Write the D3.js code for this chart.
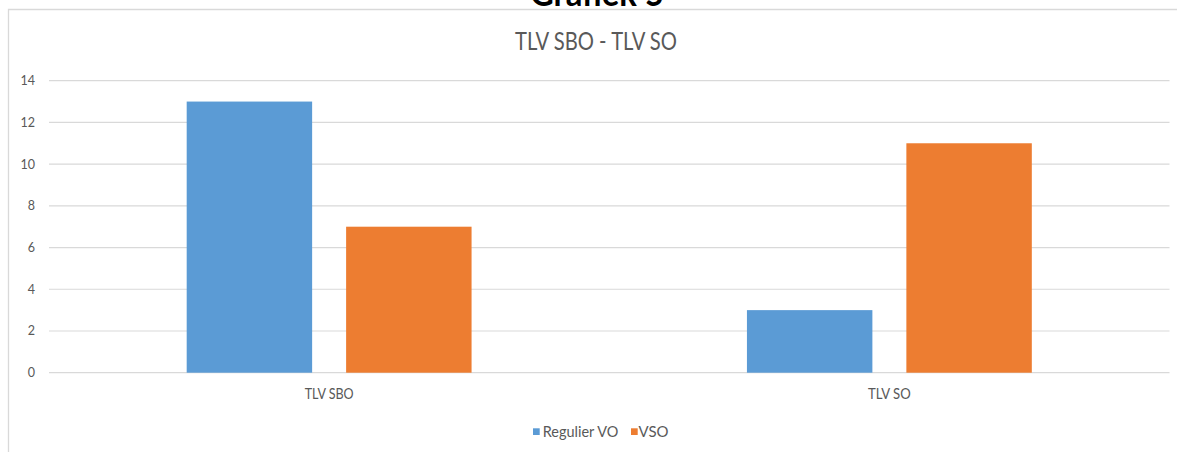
<!DOCTYPE html>
<html>
<head>
<meta charset="utf-8">
<script src="https://cdn.jsdelivr.net/npm/d3@7"></script>
<style>
  html, body { margin: 0; padding: 0; background: #fff; }
  svg { display: block; }
  text { font-family: Lato, "Liberation Sans", sans-serif; }
</style>
</head>
<body>
<svg id="chart" width="1177" height="452"></svg>
<script>
// ---- data ----
const categories = ["TLV SBO", "TLV SO"];
const seriesNames = ["Regulier VO", "VSO"];
const regulierVO = [13, 3];
const vso = [7, 11];
const yTicks = [0, 2, 4, 6, 8, 10, 12, 14];
const chartTitle = "TLV SBO - TLV SO";
const pageHeading = "Grafiek 5";

// ---- layout / style ----
const W = 1177, H = 452;
const plot = { left: 49, right: 1169.5, top: 80.7, bottom: 372.7 };
const colors = { "Regulier VO": "#5B9BD5", "VSO": "#ED7D31" };
const textColor = "#595959";
const gridColor = "#d9d9d9";

const svg = d3.select("#chart");

function fitTo(sel, width) {
  sel.each(function () {
    this.setAttribute("textLength", width);
    this.setAttribute("lengthAdjust", "spacingAndGlyphs");
  });
}

// page heading (cut off at top)
svg.append("text")
  .attr("x", 597).attr("y", 5.5)
  .attr("text-anchor", "middle")
  .attr("font-size", 36).attr("font-weight", "bold")
  .attr("fill", "#000")
  .text(pageHeading)
  .call(fitTo, 134);

// chart area border (top + left visible)
svg.append("path")
  .attr("d", `M8.5,${H} V9.5 H${W}`)
  .attr("fill", "none").attr("stroke", gridColor).attr("stroke-width", 1.3);

// scales
const y = d3.scaleLinear().domain([0, 14]).range([plot.bottom, plot.top]);
const x0 = d3.scaleBand().domain(categories).range([plot.left, plot.right]).padding(0);
const groupFrac = 285 / 560.5;
const x1 = d3.scaleBand().domain(seriesNames)
  .range([0, x0.bandwidth() * groupFrac])
  .paddingInner(34 / 159.5).paddingOuter(0);
const groupOffset = (x0.bandwidth() - x0.bandwidth() * groupFrac) / 2;

// gridlines
svg.append("g")
  .selectAll("line").data(yTicks).join("line")
  .attr("x1", plot.left).attr("x2", plot.right)
  .attr("y1", d => y(d)).attr("y2", d => y(d))
  .attr("stroke", gridColor).attr("stroke-width", 1.2);

// y axis labels
const yAxis = d3.axisLeft(y).tickValues(yTicks).tickSize(0).tickPadding(0).tickFormat(d3.format("d"));
const yg = svg.append("g").attr("transform", "translate(35,0)").call(yAxis);
yg.select(".domain").remove();
yg.selectAll("text")
  .attr("fill", textColor)
  .attr("font-size", 12.5)
  .attr("font-family", "Lato, sans-serif");

// bars
const rows = categories.map((c, i) => ({
  category: c,
  values: [
    { series: "Regulier VO", value: regulierVO[i] },
    { series: "VSO", value: vso[i] }
  ]
}));

const groups = svg.append("g").selectAll("g").data(rows).join("g")
  .attr("transform", d => `translate(${x0(d.category) + groupOffset},0)`);

groups.selectAll("rect").data(d => d.values).join("rect")
  .attr("x", d => x1(d.series))
  .attr("width", x1.bandwidth())
  .attr("y", d => y(d.value))
  .attr("height", d => y(0) - y(d.value))
  .attr("fill", d => colors[d.series]);

// x axis labels
const xAxis = d3.axisBottom(x0).tickSize(0).tickPadding(0);
const xg = svg.append("g").attr("transform", `translate(0,${plot.bottom})`).call(xAxis);
xg.select(".domain").remove();
const catWidths = { "TLV SBO": 49, "TLV SO": 42.7 };
xg.selectAll("text")
  .attr("dy", null)
  .attr("y", 26.3)
  .attr("fill", textColor)
  .attr("font-size", 15)
  .attr("font-family", "Lato, sans-serif")
  .each(function (d) { fitTo(d3.select(this), catWidths[d]); });

// title
svg.append("text")
  .attr("x", 596).attr("y", 50)
  .attr("text-anchor", "middle")
  .attr("font-size", 25)
  .attr("fill", textColor)
  .text(chartTitle)
  .call(fitTo, 162);

// legend
const legendItems = [
  { name: seriesNames[0], sx: 533, tx: 542.7, w: 75.6 },
  { name: seriesNames[1], sx: 631, tx: 638.5, w: 30 }
];
const lg = svg.append("g");
lg.selectAll("rect").data(legendItems).join("rect")
  .attr("x", d => d.sx).attr("y", 428.3)
  .attr("width", 6.7).attr("height", 6.7)
  .attr("fill", d => colors[d.name]);
lg.selectAll("text").data(legendItems).join("text")
  .attr("x", d => d.tx).attr("y", 436.7)
  .attr("font-size", 14.5)
  .attr("fill", textColor)
  .text(d => d.name)
  .each(function (d) { fitTo(d3.select(this), d.w); });
</script>
</body>
</html>
